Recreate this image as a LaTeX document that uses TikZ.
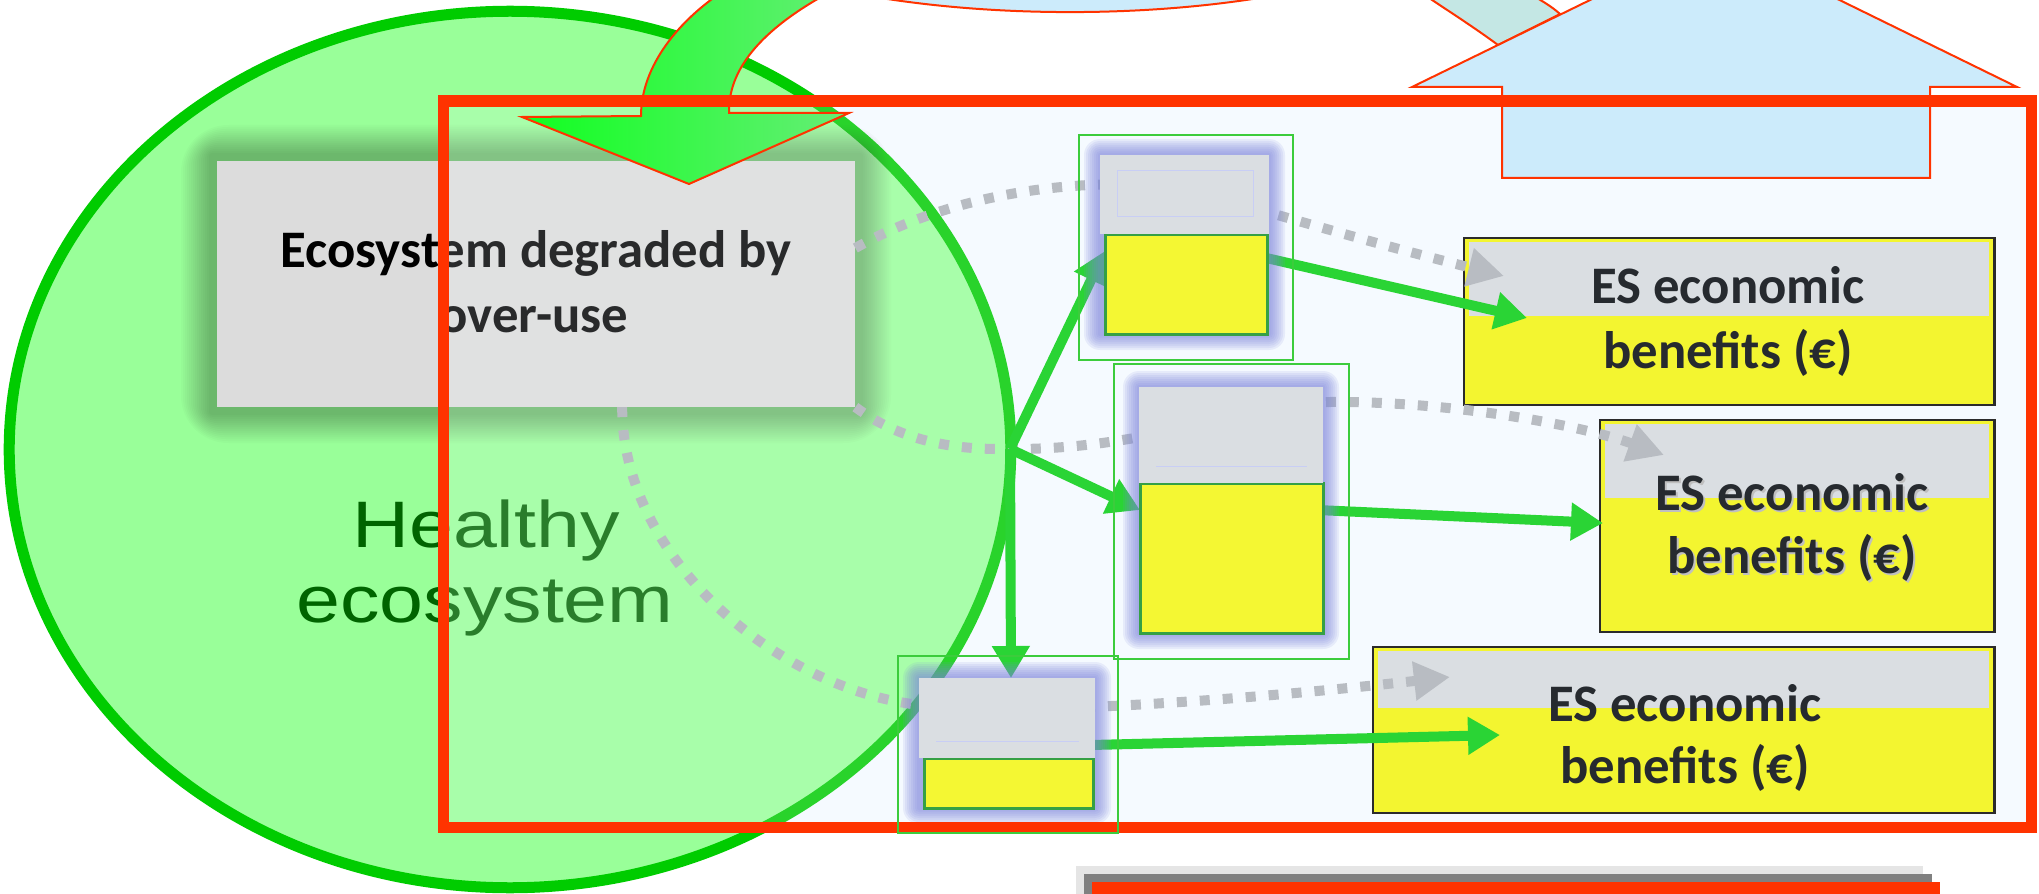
\documentclass[tikz,border=0pt]{standalone}
\usepackage{graphicx}
\usepackage{fontspec}
\setmainfont{Carlito}
\newfontfamily\healthyfont{Liberation Sans}
\usetikzlibrary{arrows.meta,calc}
\pgfdeclarelayer{bottom}
\pgfdeclarelayer{links}
\pgfdeclarelayer{top}
\pgfsetlayers{bottom,links,main,top}

\definecolor{paneblue}{HTML}{F5FAFF}
\definecolor{ringgreen}{HTML}{00CC00}
\definecolor{healthfill}{HTML}{99FF99}
\definecolor{healthtext}{HTML}{006400}
\definecolor{degfill}{HTML}{DCDCDC}
\definecolor{framered}{HTML}{FF3300}
\definecolor{skyfill}{HTML}{CCEBFB}
\definecolor{tealfill}{HTML}{C4E7E4}
\definecolor{flowgreen}{HTML}{2AD435}
\definecolor{dotgray}{HTML}{B8BCC2}
\definecolor{capgray}{HTML}{DADEE2}
\definecolor{potyellow}{HTML}{F4F733}
\definecolor{potedge}{HTML}{35A045}
\definecolor{glowblue}{HTML}{7C84DC}
\definecolor{faintblue}{HTML}{C8CEF5}
\definecolor{esyellow}{HTML}{F3F530}
\definecolor{esedge}{HTML}{2B2B2B}
\definecolor{estextc}{HTML}{262A2F}
\definecolor{boxframe}{HTML}{3CCC3C}
\definecolor{arrowlight}{HTML}{66EE77}
\definecolor{arrowdeep}{HTML}{10FF20}

\tikzset{
  box/.style={inner sep=0pt, outer sep=0pt, anchor=north west},
  esbox/.style={box, fill=esyellow},
  degtext/.style={font=\fontsize{15pt}{18pt}\selectfont\bfseries, text=black, inner sep=0pt, anchor=base},
  estext/.style={font=\fontsize{15pt}{18pt}\selectfont\bfseries, text=estextc, inner sep=0pt, anchor=base},
  esshade/.style={estext, text=black!25},
  healthy/.style={font=\healthyfont\fontsize{18.7pt}{22pt}\selectfont, text=healthtext, inner sep=0pt, anchor=base},
  flow/.style={draw=flowgreen, line width=0.1cm, -{Triangle[length=0.32cm,width=0.36cm]}},
  dotflow/.style={draw=dotgray, line width=0.1cm, dash pattern=on 0.1cm off 0.13cm,
    -{Triangle[length=0.36cm,width=0.37cm,fill=dotgray]}},
  thinred/.style={draw=framered, line width=0.02cm},
  potframe/.style={draw=boxframe, line width=0.022cm},
}

\begin{document}
\begin{tikzpicture}[x=0.01cm,y=-0.01cm]
\useasboundingbox (0,0) rectangle (2039,894);
\clip (0,0) rectangle (2039,894);

% ---------------- background layer ----------------
\begin{pgfonlayer}{bottom}
  % pale pane of the frame
  \fill[paneblue] (443,101) rectangle (2031,827);
  % healthy ecosystem
  \draw[ringgreen, fill=healthfill, line width=0.11cm]
    (510,449.5) ellipse [x radius=5.005cm, y radius=4.38cm];
  % soft shadow of the degraded box
  \foreach \i in {1,...,15}
    \fill[black, opacity=0.018, rounded corners=\i*0.9pt]
      (211-2*\i,155-2*\i) rectangle (861+2*\i,413+2*\i);
  \node[box, fill=degfill, minimum width=6.38cm, minimum height=2.46cm] (deg) at (217,161) {};
  \node[degtext] (degA) at (536,268) {Ecosystem degraded by};
  \node[degtext] (degB) at (534,333) {over-use};
  \node[healthy] (hA) at (486,547) {\scalebox{1.2}[1]{Healthy}};
  \node[healthy] (hB) at (485,622) {\scalebox{1.2}[1]{ecosystem}};
  % translucent veil of the frame
  \fill[paneblue, opacity=0.17] (443,101) rectangle (2031,827);

  % cycle arrows along the top edge
  \draw[thinred, fill=skyfill] (1070,-120) ellipse [x radius=4.2cm, y radius=1.32cm];
  \draw[thinred, fill=tealfill]
    (1420,-8) .. controls (1450,12) and (1475,28) .. (1498,45) -- (1560,14)
    .. controls (1550,5) and (1540,0) .. (1527,-8) -- cycle;
  \draw[thinred, fill=skyfill]
    (1502,178) -- (1502,87) -- (1412,87) -- (1715,-61) -- (2017,87) -- (1930,87) -- (1930,178) -- cycle;
  \draw[thinred, left color=arrowdeep, right color=arrowlight]
    (641,116) -- (522,117) -- (689,184) -- (849,113) -- (729,113)
    .. controls (728,70) and (760,30) .. (830,-8) -- (722,-8)
    .. controls (680,20) and (641,65) .. (641,116) -- cycle;

  % economic benefit boxes
  \node[esbox, minimum width=5.30cm, minimum height=1.67cm] (es1) at (1464,238) {};
  \fill[capgray] ($(es1.north west)+(5,4)$) rectangle ($(es1.north east)+(-5,78)$);
  \draw[esedge, line width=0.025cm] (es1.north west) rectangle (es1.south east);
  \node[estext] (es1a) at (1728,304) {ES economic};
  \node[estext] (es1b) at (1728,368) {benefits (€)};

  \node[esbox, minimum width=3.94cm, minimum height=2.12cm] (es2) at (1600,420) {};
  \fill[capgray] ($(es2.north west)+(5,4)$) rectangle ($(es2.north east)+(-5,78)$);
  \draw[esedge, line width=0.025cm] (es2.north west) rectangle (es2.south east);
  \node[esshade] (es2sa) at (1794,512) {ES economic};
  \node[esshade] (es2sb) at (1794,575) {benefits (€)};
  \node[estext] (es2a) at (1792,510) {ES economic};
  \node[estext] (es2b) at (1792,573) {benefits (€)};

  \node[esbox, minimum width=6.21cm, minimum height=1.66cm] (es3) at (1373,647) {};
  \fill[capgray] ($(es3.north west)+(5,4)$) rectangle ($(es3.north east)+(-5,61)$);
  \draw[esedge, line width=0.025cm] (es3.north west) rectangle (es3.south east);
  \node[estext] (es3a) at (1685,721) {ES economic};
  \node[estext] (es3b) at (1685,783) {benefits (€)};
\end{pgfonlayer}

% ---------------- service stocks ----------------
\foreach \i in {1,...,8}
  \fill[glowblue, opacity=0.12, rounded corners=\i*0.57pt]
    (1100-2*\i,155-2*\i) rectangle (1269+2*\i,334+2*\i);
\node[box, fill=potyellow, draw=potedge, line width=0.03cm, minimum width=1.62cm, minimum height=1.00cm] (yA) at (1105,234) {};
\node[box, fill=capgray, minimum width=1.69cm, minimum height=0.79cm] (gA) at (1100,155) {};
\draw[faintblue, line width=0.01cm] ($(gA.north west)+(17,16)$) rectangle ($(gA.north east)+(-16,62)$);

\foreach \i in {1,...,8}
  \fill[glowblue, opacity=0.12, rounded corners=\i*0.57pt]
    (1139-2*\i,387-2*\i) rectangle (1323+2*\i,633+2*\i);
\node[box, fill=potyellow, draw=potedge, line width=0.03cm, minimum width=1.83cm, minimum height=1.50cm] (yB) at (1140,483) {};
\node[box, fill=capgray, minimum width=1.84cm, minimum height=0.96cm] (gB) at (1139,387) {};
\draw[faintblue, line width=0.01cm] ($(gB.south west)+(17,-17)$) -- ($(gB.south east)+(-16,-17)$);

\foreach \i in {1,...,8}
  \fill[glowblue, opacity=0.12, rounded corners=\i*0.57pt]
    (919-2*\i,678-2*\i) rectangle (1095+2*\i,808+2*\i);
\node[box, fill=potyellow, draw=potedge, line width=0.03cm, minimum width=1.69cm, minimum height=0.50cm] (yC) at (924,758) {};
\node[box, fill=capgray, minimum width=1.76cm, minimum height=0.80cm] (gC) at (919,678) {};
\draw[faintblue, line width=0.01cm] ($(gC.south west)+(17,-17)$) -- ($(gC.south east)+(-16,-17)$);

% ---------------- connectors ----------------
\begin{pgfonlayer}{links}
  \coordinate (hub) at (1010,449);
  % dotted flows
  \draw[dotflow] ($(deg.east)+(0,-36)$) .. controls (940,200) and (1050,180) .. (1150,185)
    .. controls (1200,188) and (1300,225) .. ($(es1.north west)+(40,38)$);
  \draw[dotflow] (deg.south east) .. controls (900,440) and (950,450) .. (hub)
    .. controls (1150,450) and (1250,403) .. (1330,402)
    .. controls (1450,401) and (1580,425) .. ($(es2.north west)+(64,35)$);
  \draw[dotflow] ($(deg.south)+(86,0)$) .. controls (622,560) and (780,690) .. (920,705)
    .. controls (1000,715) and (1200,705) .. ($(es3.north west)+(77,30)$);
  % solid flows
  \draw[flow] (hub) -- ($(yA.north west)+(0,17)$);
  \draw[flow] (hub) -- ($(yB.north west)+(0,27)$);
  \draw[flow] (hub) -- ($(gC.north west)+(92,0)$);
  \draw[flow] ($(yA.east)+(-5,-27)$) -- ($(es1.north west)+(63,80)$);
  \draw[flow] ($(yB.east)+(-5,-48)$) -- ($(es2.west)+(3,-3)$);
  \draw[flow] ($(gC.east)+(-5,27)$) -- ($(es3.north west)+(127,88)$);
\end{pgfonlayer}

% ---------------- foreground ----------------
\begin{pgfonlayer}{top}
  \draw[framered, line width=0.11cm] (443,101) rectangle (2031,827);
  \draw[potframe] (1079,135) rectangle (1293,360);
  \draw[potframe] (1114,364) rectangle (1349,659);
  \draw[potframe] (898,656) rectangle (1118,833);
  % stacked bars at the lower edge
  \fill[black!10] (1076,866) rectangle (1923,900);
  \fill[black!50] (1084,874) rectangle (1932,900);
  \fill[framered] (1092,882) rectangle (1940,900);
\end{pgfonlayer}
\end{tikzpicture}
\end{document}
